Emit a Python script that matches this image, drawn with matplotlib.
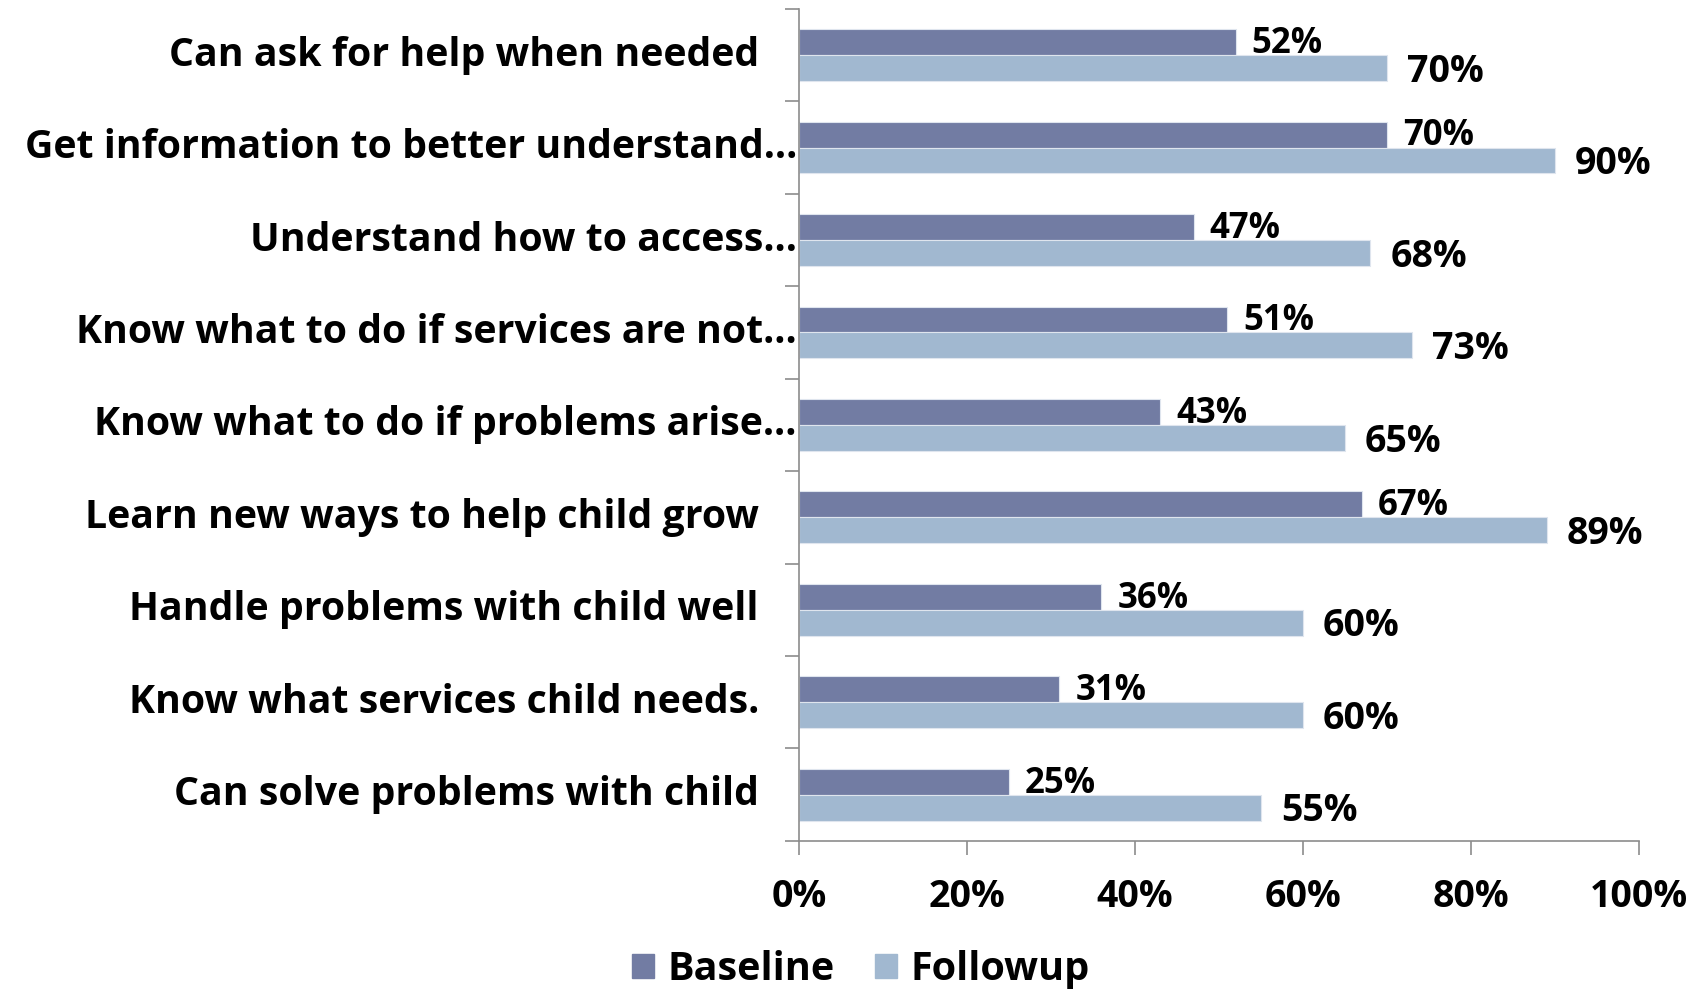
import numpy as np
import matplotlib.pyplot as plt
from matplotlib import font_manager
from matplotlib.patches import Patch

# data
categories = [
    "Can ask for help when needed",
    "Get information to better understand\u2026",
    "Understand how to access\u2026",
    "Know what to do if services are not\u2026",
    "Know what to do if problems arise\u2026",
    "Learn new ways to help child grow",
    "Handle problems with child well",
    "Know what services child needs.",
    "Can solve problems with child",
]
truncated = [False, True, True, True, True, False, False, False, False]
baseline = [52, 70, 47, 51, 43, 67, 36, 31, 25]
followup = [70, 90, 68, 73, 65, 89, 60, 60, 55]
xticks = [0, 20, 40, 60, 80, 100]

c_base = "#727ca3"
c_follow = "#a1b8d0"

faces = font_manager.fontManager.ttflist


def pick_bold(cands):
    for c in cands:
        for f in faces:
            if f.name == c and f.weight in (700, "bold") and f.stretch == "normal":
                return c
    return "DejaVu Sans"


font = pick_bold(["Noto Sans", "Open Sans", "Lato"])
bold = dict(family=font, fontweight="bold")

fig = plt.figure(figsize=(17.05, 9.89), dpi=100)
ax = fig.add_axes([0.4686, 0.1497, 0.9613 - 0.4686, 0.991 - 0.1497])

y = np.arange(len(categories))
h = 0.28
ax.barh(y - h / 2, baseline, height=h, color=c_base, edgecolor="#dfe5ee", linewidth=0.8)
ax.barh(y + h / 2, followup, height=h, color=c_follow, edgecolor="#dfe5ee", linewidth=0.8)

ax.set_xlim(0, 100)
ax.set_ylim(len(categories) - 0.5, -0.5)

# value labels
for i in range(len(categories)):
    ax.annotate(f"{baseline[i]}%", (baseline[i], y[i] - h / 2 + 0.02), xytext=(16, 0),
                textcoords="offset pixels", va="center", ha="left", fontsize=25, **bold)
    ax.annotate(f"{followup[i]}%", (followup[i], y[i] + h / 2 + 0.04), xytext=(20, 0),
                textcoords="offset pixels", va="center", ha="left", fontsize=27, **bold)

# category labels
ax.set_yticks(np.arange(len(categories) + 1) - 0.5)
ax.set_yticklabels([])
for i, lab in enumerate(categories):
    off = -2 if truncated[i] else -40
    ax.annotate(lab, (0, y[i]), xycoords=("axes fraction", "data"), xytext=(off, 0),
                textcoords="offset pixels", ha="right", va="center", fontsize=28.3, **bold)

ax.set_xticks(xticks)
ax.set_xticklabels([f"{v}%" for v in xticks], fontsize=27, **bold)
ax.tick_params(axis="both", direction="out", length=10, width=1.2, color="#8c8c8c")
ax.tick_params(axis="x", pad=17)

for s in ["top", "right"]:
    ax.spines[s].set_visible(False)
for s in ["left", "bottom"]:
    ax.spines[s].set_color("#8c8c8c")
    ax.spines[s].set_linewidth(1.2)

handles = [Patch(color=c_base, label="Baseline"), Patch(color=c_follow, label="Followup")]
fig.legend(handles=handles, loc="center", bbox_to_anchor=(0.505, 0.02), ncol=2, frameon=False,
           prop={"family": font, "weight": "bold", "size": 28.5},
           handlelength=0.55, handleheight=0.55, handletextpad=0.35, columnspacing=1.0)

fig.savefig("out.png", dpi=100)
